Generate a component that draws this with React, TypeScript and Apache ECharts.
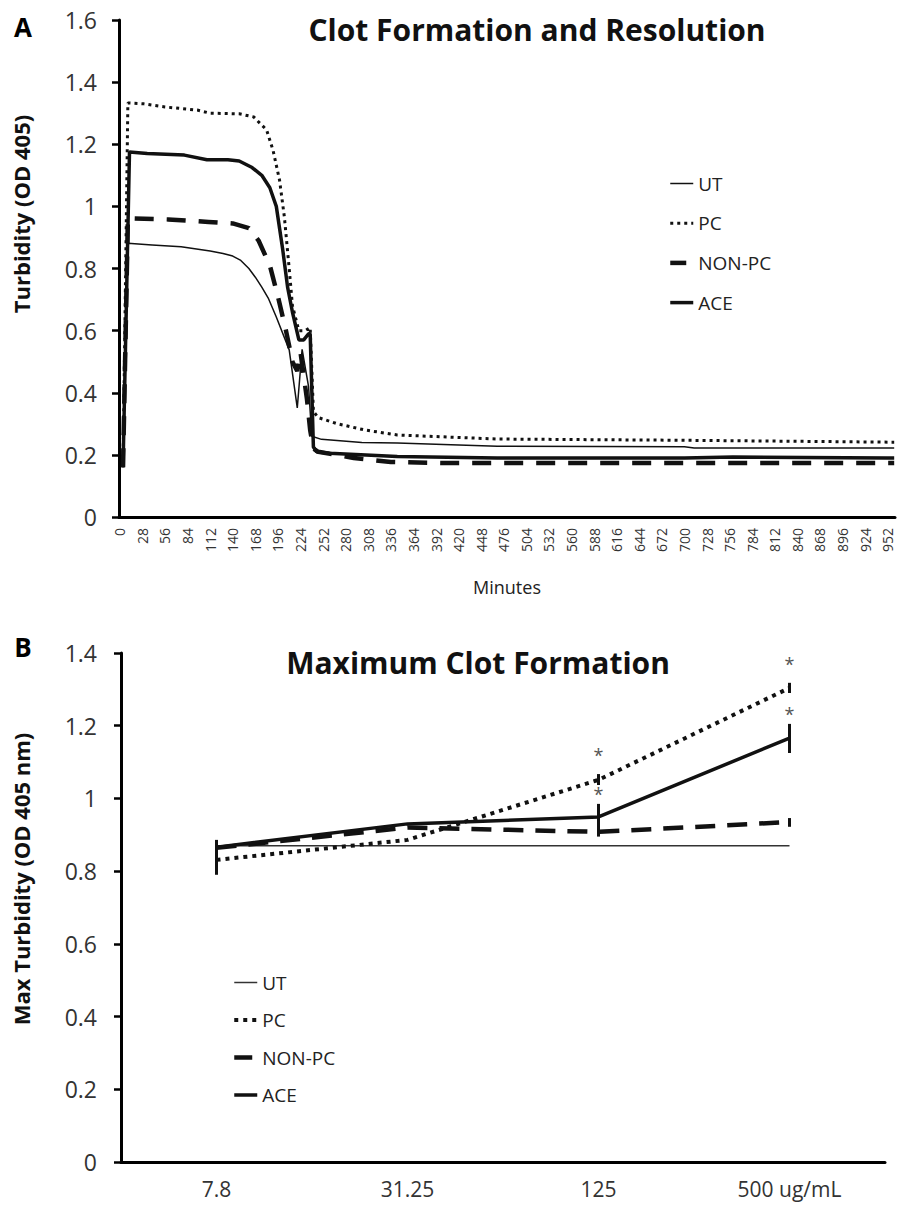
import React, { useEffect, useRef } from "react";
import * as echarts from "echarts";

const FONT = "'Open Sans', 'Liberation Sans', sans-serif";

// ---------- Panel A: clot formation and resolution (time course) ----------
const minuteStep = 2;
const minuteEnd = 960;
const minuteCategories: string[] = [];
for (let m = 0; m <= minuteEnd; m += minuteStep) minuteCategories.push(String(m));

const seriesNames = ["UT", "PC", "NON-PC", "ACE"];

// [minute, OD405] breakpoints
const utCurve: [number, number][] = [
  [4, 0.16], [10, 0.881], [40, 0.876], [76, 0.87], [112, 0.856], [128, 0.848],
  [140, 0.84], [150, 0.826], [160, 0.8], [168, 0.772], [176, 0.74], [184, 0.705],
  [194, 0.644], [210, 0.538], [220, 0.351], [226, 0.54], [234, 0.42], [238, 0.26],
  [250, 0.25], [300, 0.24], [344, 0.238], [468, 0.228], [700, 0.226], [712, 0.222],
  [952, 0.222], [960, 0.222],
];
const pcCurve: [number, number][] = [
  [4, 0.16], [10, 1.333], [30, 1.33], [56, 1.32], [96, 1.31], [112, 1.3],
  [148, 1.298], [166, 1.288], [182, 1.246], [190, 1.18], [198, 1.085], [204, 0.966],
  [210, 0.8], [214, 0.68], [222, 0.6], [230, 0.6], [236, 0.61], [240, 0.34],
  [246, 0.32], [270, 0.3], [304, 0.28], [344, 0.264], [468, 0.251], [700, 0.247],
  [952, 0.241], [960, 0.241],
];
const nonPcCurve: [number, number][] = [
  [4, 0.16], [10, 0.962], [60, 0.958], [110, 0.95], [140, 0.945], [160, 0.93],
  [172, 0.89], [186, 0.81], [196, 0.71], [206, 0.6], [214, 0.5], [220, 0.47],
  [224, 0.53], [232, 0.38], [236, 0.28], [240, 0.22], [246, 0.21], [290, 0.19],
  [336, 0.177], [400, 0.174], [952, 0.174], [960, 0.174],
];
const aceCurve: [number, number][] = [
  [4, 0.16], [12, 1.175], [34, 1.17], [80, 1.165], [108, 1.15], [134, 1.15],
  [148, 1.146], [164, 1.125], [176, 1.1], [186, 1.06], [193, 1.0], [202, 0.86],
  [208, 0.74], [214, 0.66], [222, 0.57], [228, 0.57], [234, 0.59], [236, 0.59],
  [240, 0.225], [244, 0.21], [260, 0.205], [344, 0.195], [468, 0.19], [700, 0.19],
  [760, 0.193], [952, 0.19], [960, 0.19],
];

// ---------- Panel B: maximum clot formation ----------
const concentrations = ["7.8", "31.25", "125", "500 ug/mL"];
const utMax = [0.87, 0.87, 0.87, 0.87];
const pcMax = [0.831, 0.886, 1.051, 1.304];
const nonPcMax = [0.864, 0.92, 0.908, 0.935];
const aceMax = [0.866, 0.93, 0.949, 1.166];

// error bars [low, high] per concentration (null = not visible)
const pcErr: ([number, number] | null)[] = [[0.79, 0.886], null, [1.037, 1.067], [1.29, 1.318]];
const nonPcErr: ([number, number] | null)[] = [null, null, [0.895, 0.925], [0.922, 0.946]];
const aceErr: ([number, number] | null)[] = [null, null, [0.915, 0.985], [1.125, 1.205]];
// significance markers
const pcSig = [false, false, true, true];
const aceSig = [false, false, true, true];

const toIdx = (pts: [number, number][]) => pts.map(([m, v]) => [m / minuteStep, v]);

const lineStylesA: Record<string, any> = {
  UT: { color: "#111", width: 1.5, type: "solid" },
  PC: { color: "#111", width: 3, type: [3, 4] },
  "NON-PC": { color: "#111", width: 4.5, type: [19, 13] },
  ACE: { color: "#111", width: 3.5, type: "solid" },
};
const lineStylesB: Record<string, any> = {
  UT: { color: "#333", width: 1.5, type: "solid" },
  PC: { color: "#111", width: 4, type: [4, 5] },
  "NON-PC": { color: "#111", width: 4.5, type: [20, 12] },
  ACE: { color: "#111", width: 3.5, type: "solid" },
};
// legend samples (NON-PC shows a single short dash)
const legendLineA: Record<string, any> = {
  ...lineStylesA,
  "NON-PC": { color: "#111", width: 4.5, type: [16, 40] },
};
const legendLineB: Record<string, any> = {
  ...lineStylesB,
  "NON-PC": { color: "#111", width: 4.5, type: [18, 40] },
};

const curvesA: Record<string, [number, number][]> = {
  UT: utCurve, PC: pcCurve, "NON-PC": nonPcCurve, ACE: aceCurve,
};
const valuesB: Record<string, number[]> = {
  UT: utMax, PC: pcMax, "NON-PC": nonPcMax, ACE: aceMax,
};

const axisLabelStyle = { fontFamily: FONT, color: "#333" };

const legendBase = {
  orient: "vertical",
  itemWidth: 23,
  itemHeight: 14,
  selectedMode: false,
  itemStyle: { opacity: 0, color: "rgba(0,0,0,0)", borderWidth: 0 },
  textStyle: { fontFamily: FONT, fontSize: 19, color: "#222" },
};

const optionA: any = {
  animation: false,
  grid: { left: 119, top: 20, width: 776, height: 497, containLabel: false },
  xAxis: {
    type: "category",
    data: minuteCategories,
    boundaryGap: true,
    axisLine: { show: true, lineStyle: { color: "#000", width: 3 } },
    axisTick: { show: false },
    axisLabel: { ...axisLabelStyle, interval: 13, rotate: 90, margin: 11, fontSize: 14 },
    name: "Minutes",
    nameLocation: "middle",
    nameGap: 61,
    nameTextStyle: { fontFamily: FONT, fontSize: 18, color: "#222" },
    splitLine: { show: false },
  },
  yAxis: {
    type: "value",
    min: 0,
    max: 1.6,
    interval: 0.2,
    axisLine: { show: true, lineStyle: { color: "#000", width: 3 } },
    axisTick: { show: true, length: 7, lineStyle: { color: "#000", width: 2.5 } },
    axisLabel: { ...axisLabelStyle, fontSize: 23, margin: 22 },
    splitLine: { show: false },
  },
  legend: {
    ...legendBase,
    left: 663,
    top: 169,
    itemGap: 20.7,
    data: seriesNames.map((n) => ({ name: n, lineStyle: legendLineA[n] })),
  },
  series: seriesNames.map((n) => ({
    name: n,
    type: "line",
    data: toIdx(curvesA[n]),
    symbol: "none",
    lineStyle: lineStylesA[n],
    itemStyle: { color: "#111" },
  })),
  graphic: [
    {
      type: "text", x: 23, y: 27,
      style: { text: "A", font: `bold 26px ${FONT}`, fill: "#000", align: "center", verticalAlign: "middle" },
    },
    {
      type: "text", x: 537, y: 29,
      style: { text: "Clot Formation and Resolution", font: `bold 30px ${FONT}`, fill: "#111", align: "center", verticalAlign: "middle" },
    },
    {
      type: "text", x: 21, y: 214, rotation: Math.PI / 2,
      style: { text: "Turbidity (OD 405)", font: `bold 22px ${FONT}`, fill: "#111", align: "center", verticalAlign: "middle" },
    },
  ],
};

const errSeries = (name: string, err: ([number, number] | null)[], sig: boolean[], starGap: number) => ({
  type: "custom",
  name: name + "-err",
  z: 5,
  data: err
    .map((e, i) => (e ? [i, e[0], e[1], sig[i] ? 1 : 0] : null))
    .filter((d) => d !== null),
  encode: { x: 0, y: [1, 2] },
  renderItem: (_params: any, api: any) => {
    const i = api.value(0);
    const lo = api.coord([i, api.value(1)]);
    const hi = api.coord([i, api.value(2)]);
    const children: any[] = [
      {
        type: "line",
        shape: { x1: lo[0], y1: lo[1], x2: hi[0], y2: hi[1] },
        style: { stroke: "#111", lineWidth: 3 },
      },
    ];
    if (api.value(3) === 1) {
      children.push({
        type: "text",
        x: hi[0],
        y: hi[1] - starGap,
        style: { text: "*", font: `18px ${FONT}`, fill: "#555", align: "center", verticalAlign: "middle" },
      });
    }
    return { type: "group", children };
  },
});

const optionB: any = {
  animation: false,
  grid: { left: 121, top: 50, width: 764, height: 509, containLabel: false },
  xAxis: {
    type: "category",
    data: concentrations,
    boundaryGap: true,
    axisLine: { show: true, lineStyle: { color: "#000", width: 3 } },
    axisTick: { show: false },
    axisLabel: { ...axisLabelStyle, fontSize: 21, margin: 16, interval: 0 },
    splitLine: { show: false },
  },
  yAxis: {
    type: "value",
    min: 0,
    max: 1.4,
    interval: 0.2,
    axisLine: { show: true, lineStyle: { color: "#000", width: 3 } },
    axisTick: { show: true, length: 7, lineStyle: { color: "#000", width: 2.5 } },
    axisLabel: { ...axisLabelStyle, fontSize: 23, margin: 24 },
    splitLine: { show: false },
  },
  legend: {
    ...legendBase,
    left: 227,
    top: 365,
    itemGap: 18.5,
    data: seriesNames.map((n) => ({ name: n, lineStyle: legendLineB[n] })),
  },
  series: [
    ...seriesNames.map((n) => ({
      name: n,
      type: "line",
      data: valuesB[n],
      symbol: "none",
      lineStyle: lineStylesB[n],
      itemStyle: { color: "#111" },
    })),
    errSeries("PC", pcErr, pcSig, 19),
    errSeries("NON-PC", nonPcErr, [false, false, false, false], 0),
    errSeries("ACE", aceErr, aceSig, 10),
  ],
  graphic: [
    {
      type: "text", x: 23, y: 44,
      style: { text: "B", font: `bold 26px ${FONT}`, fill: "#000", align: "center", verticalAlign: "middle" },
    },
    {
      type: "text", x: 478, y: 59,
      style: { text: "Maximum Clot Formation", font: `bold 30px ${FONT}`, fill: "#111", align: "center", verticalAlign: "middle" },
    },
    {
      type: "text", x: 21, y: 276, rotation: Math.PI / 2,
      style: { text: "Max Turbidity (OD 405 nm)", font: `bold 22px ${FONT}`, fill: "#111", align: "center", verticalAlign: "middle" },
    },
  ],
};

function EChart({ option, style }: { option: any; style: React.CSSProperties }) {
  const ref = useRef<HTMLDivElement>(null);
  useEffect(() => {
    if (!ref.current) return;
    const chart = echarts.init(ref.current, undefined, { renderer: "svg" });
    chart.setOption(option);
    return () => chart.dispose();
  }, [option]);
  return <div ref={ref} style={style} />;
}

export default function App() {
  return (
    <div style={{ position: "absolute", left: 0, top: 0, width: 898, height: 1206, background: "#fff" }}>
      <EChart option={optionA} style={{ position: "absolute", left: 0, top: 0, width: 898, height: 603 }} />
      <EChart option={optionB} style={{ position: "absolute", left: 0, top: 603, width: 898, height: 603 }} />
    </div>
  );
}
